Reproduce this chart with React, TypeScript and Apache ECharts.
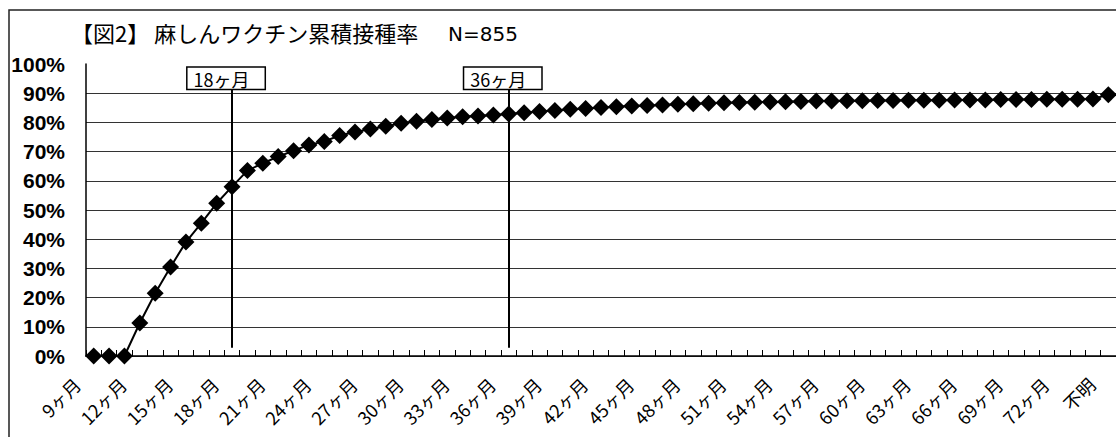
import React, { useEffect, useRef } from "react";
import * as echarts from "echarts";

const monthCategories: string[] = [];
for (let m = 9; m <= 74; m++) monthCategories.push(m + "ヶ月");
const categories: string[] = [...monthCategories, "不明"];

const rates: number[] = [
  0, 0, 0, 11.3, 21.5, 30.5, 39.0, 45.5, 52.3, 58.0,
  63.5, 66.0, 68.3, 70.3, 72.3, 73.5, 75.5, 76.7, 77.7, 78.7,
  79.7, 80.4, 81.0, 81.5, 81.9, 82.2, 82.5, 82.9, 83.3, 83.7,
  84.1, 84.5, 84.8, 85.1, 85.4, 85.6, 85.8, 86.0, 86.2, 86.4,
  86.6, 86.7, 86.8, 86.9, 87.0, 87.1, 87.2, 87.3, 87.3, 87.4,
  87.4, 87.5, 87.5, 87.6, 87.6, 87.6, 87.7, 87.7, 87.7, 87.8,
  87.8, 87.8, 87.9, 87.9, 87.9, 88.0, 89.5,
];

const markerMonths: string[] = ["18ヶ月", "36ヶ月"];
const titleText = "【図2】 麻しんワクチン累積接種率";
const nText = "N=855";

export default function App() {
  const ref = useRef<HTMLDivElement>(null);
  useEffect(() => {
    if (!ref.current) return;
    const chart = echarts.init(ref.current, null, { renderer: "svg" });
    const jp = "'Noto Sans CJK JP', sans-serif";
    chart.setOption({
      animation: false,
      backgroundColor: "#fff",
      title: [
        {
          text: titleText,
          left: 66,
          top: 16,
          textStyle: { fontFamily: jp, fontSize: 22, fontWeight: "normal", color: "#000" },
        },
        {
          text: nText,
          left: 443,
          top: 19,
          textStyle: { fontFamily: "'DejaVu Sans', sans-serif", fontSize: 20, fontWeight: "normal", color: "#000" },
        },
      ],
      graphic: [
        {
          type: "rect",
          z: -1,
          shape: { x: 9, y: 10, width: 1120, height: 440 },
          style: { fill: "none", stroke: "#222", lineWidth: 1.5 },
        },
      ],
      grid: { left: 86, right: -5, top: 64, bottom: 81 },
      xAxis: {
        type: "category",
        data: categories,
        boundaryGap: true,
        axisLine: { show: true, lineStyle: { color: "#000", width: 1.5 } },
        axisTick: { show: true, inside: true, length: 6, interval: 0, lineStyle: { color: "#000" } },
        axisLabel: {
          interval: 2,
          rotate: 45,
          margin: 8,
          padding: [0, 24, 0, 0],
          fontFamily: jp,
          fontSize: 18,
          color: "#000",
        },
        splitLine: { show: false },
      },
      yAxis: {
        type: "value",
        min: 0,
        max: 100,
        interval: 10,
        axisLine: { show: true, lineStyle: { color: "#000", width: 1.5 } },
        axisTick: { show: false },
        axisLabel: {
          formatter: "{value}%",
          margin: 21,
          fontFamily: "'Liberation Sans', Arial, sans-serif",
          fontWeight: "bold",
          fontSize: 21,
          color: "#000",
        },
        splitLine: { show: true, showMaxLine: false, lineStyle: { color: "#333", width: 1 } },
      },
      series: [
        {
          type: "line",
          data: rates,
          symbol: "diamond",
          symbolSize: 17,
          showAllSymbol: true,
          lineStyle: { color: "#000", width: 2 },
          itemStyle: { color: "#000" },
          z: 3,
          markLine: {
            symbol: ["none", "none"],
            silent: true,
            lineStyle: { color: "#000", width: 2, type: "solid" },
            label: {
              show: true,
              position: "end",
              distance: 0,
              offset: [-6, 0],
              formatter: (p: any) => (p.data && p.data.name ? p.data.name : ""),
              backgroundColor: "#fff",
              borderColor: "#000",
              borderWidth: 1.5,
              padding: [2, 15, 1, 6],
              fontFamily: jp,
              fontSize: 18,
              color: "#000",
            },
            data: markerMonths.map((m) => [
              { coord: [m, 2.8], name: m },
              { coord: [m, 91.5], name: m },
            ]),
          },
        },
      ],
    });
    return () => chart.dispose();
  }, []);
  return (
    <div
      ref={ref}
      style={{ position: "absolute", left: 0, top: 0, width: 1116, height: 437 }}
    />
  );
}
